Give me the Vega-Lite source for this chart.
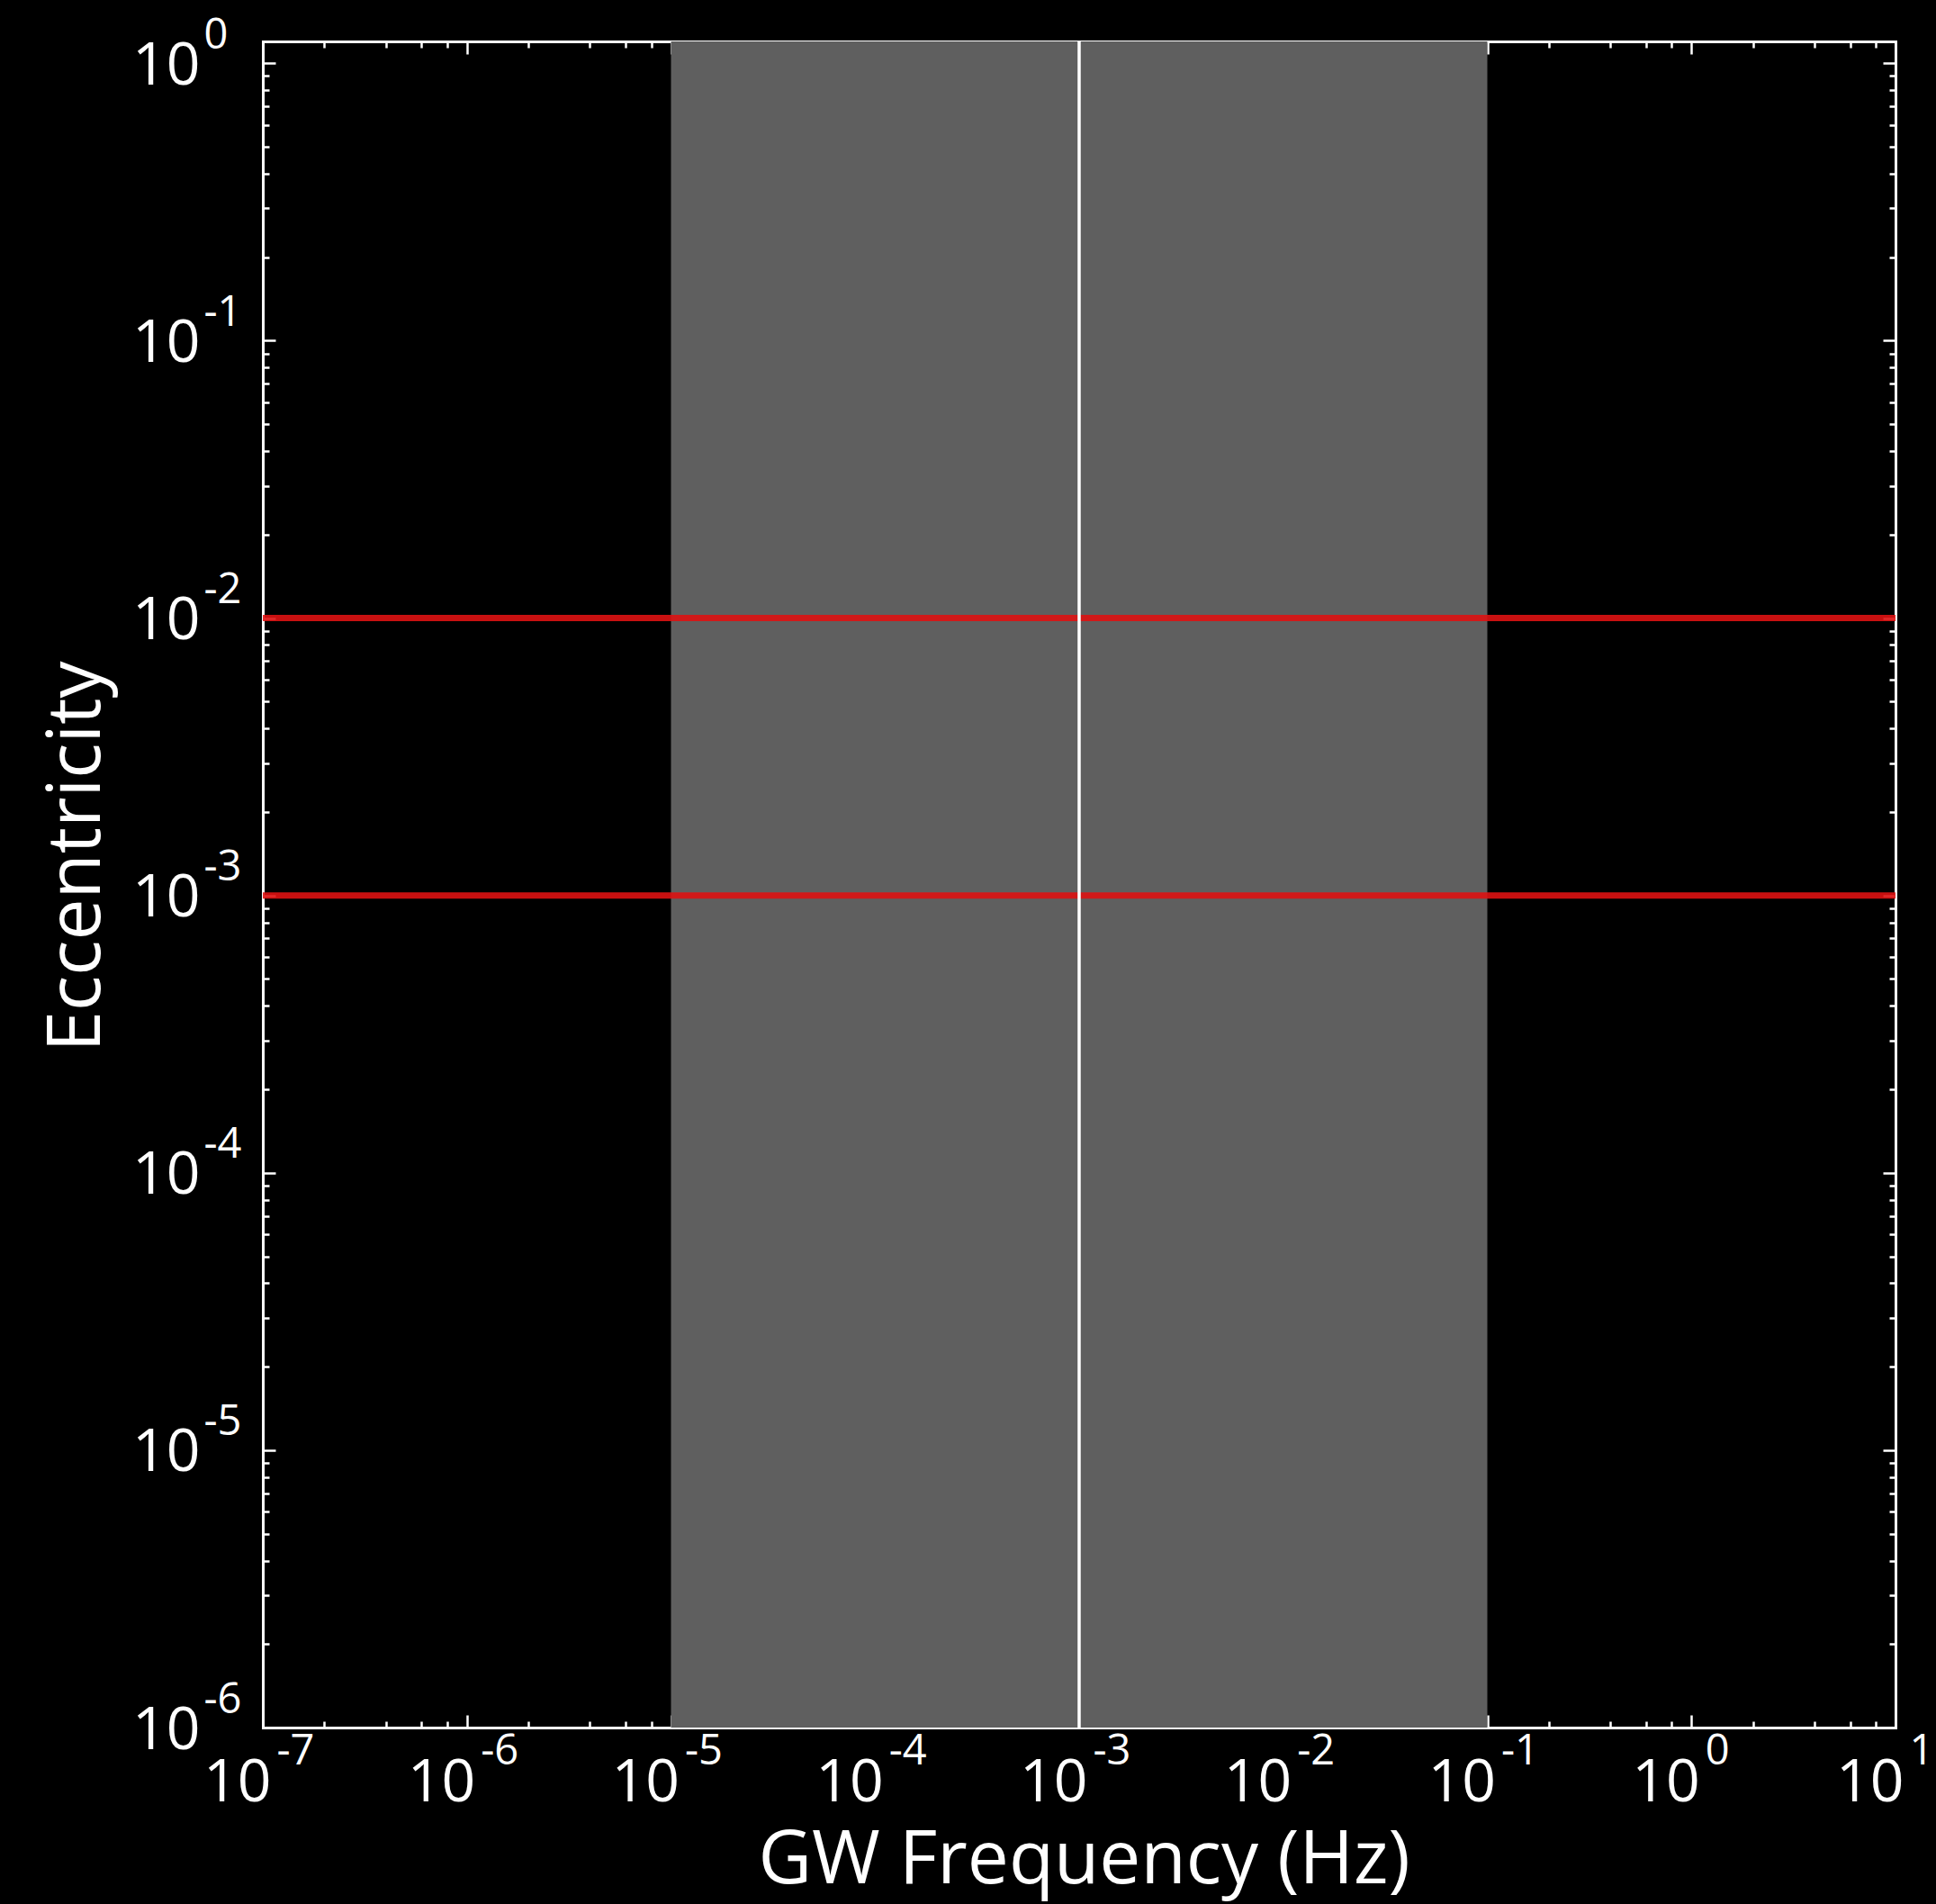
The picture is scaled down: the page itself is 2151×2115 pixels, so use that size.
{
  "$schema": "https://vega.github.io/schema/vega-lite/v6.json",
  "width": 1814,
  "height": 1873,
  "autosize": {"type": "none"},
  "padding": {"left": 292, "top": 46, "right": 45, "bottom": 196},
  "background": "#000000",
  "config": {
    "view": {"stroke": null},
    "axis": {
      "grid": false,
      "domainColor": "#ffffff",
      "domainWidth": 3,
      "domainCap": "square",
      "tickColor": "#ffffff",
      "tickWidth": 2.5,
      "labelColor": "#ffffff",
      "labelFont": "Open Sans",
      "labelFontWeight": "normal",
      "titleFont": "Open Sans",
      "titleColor": "#ffffff",
      "titleFontWeight": "normal",
      "labelOverlap": false,
      "labelFlush": false,
      "labelBound": false,
      "labelLimit": 0,
      "zindex": 1
    }
  },
  "datasets": {
    "band": [{"band_lo": 1e-5, "band_hi": 0.1}],
    "ecc_lines": [{"ecc": 0.01}, {"ecc": 0.001}],
    "freq_line": [{"freq": 0.001}]
  },
  "layer": [
    {
      "data": {"name": "band"},
      "mark": {"type": "rect", "color": "#5f5f5f"},
      "encoding": {
        "x": {
          "field": "band_lo", "type": "quantitative",
          "scale": {"type": "log", "domain": [1e-7, 10], "nice": false},
          "axis": {
            "orient": "bottom",
            "values": [1e-7, 2e-7, 4e-7, 6e-7, 8e-7, 1e-6, 2e-6, 4e-6, 6e-6, 8e-6, 1e-5, 2e-5, 4e-5, 6e-5, 8e-5, 1e-4, 2e-4, 4e-4, 6e-4, 8e-4, 1e-3, 2e-3, 4e-3, 6e-3, 8e-3, 1e-2, 2e-2, 4e-2, 6e-2, 8e-2, 0.1, 0.2, 0.4, 0.6, 0.8, 1, 2, 4, 6, 8, 10],
            "tickSize": {"condition": {"test": "abs(log(datum.value)/LN10 - round(log(datum.value)/LN10)) < 0.001", "value": -14}, "value": -7},
            "labelExpr": "abs(log(datum.value)/LN10 - round(log(datum.value)/LN10)) < 0.001 ? '10' : ''",
            "labelFontSize": 66,
            "labelAlign": "right",
            "labelBaseline": "alphabetic",
            "labelOffset": 9,
            "labelPadding": 95,
            "title": "GW Frequency (Hz)",
            "titleFontSize": 82,
            "titleBaseline": "alphabetic",
            "titleAlign": "center",
            "titleX": 912,
            "titleY": 172
          }
        },
        "x2": {"field": "band_hi"}
      }
    },
    {
      "data": {"name": "ecc_lines"},
      "mark": {"type": "rule", "color": "#de1212", "strokeWidth": 7, "opacity": 0.9},
      "encoding": {
        "y": {
          "field": "ecc", "type": "quantitative",
          "scale": {"type": "log", "domain": [1e-6, 1.2], "nice": false},
          "axis": {
            "orient": "left",
            "values": [1e-6, 2e-6, 3e-6, 4e-6, 5e-6, 6e-6, 7e-6, 8e-6, 9e-6, 1e-5, 2e-5, 3e-5, 4e-5, 5e-5, 6e-5, 7e-5, 8e-5, 9e-5, 1e-4, 2e-4, 3e-4, 4e-4, 5e-4, 6e-4, 7e-4, 8e-4, 9e-4, 1e-3, 2e-3, 3e-3, 4e-3, 5e-3, 6e-3, 7e-3, 8e-3, 9e-3, 1e-2, 2e-2, 3e-2, 4e-2, 5e-2, 6e-2, 7e-2, 8e-2, 9e-2, 0.1, 0.2, 0.3, 0.4, 0.5, 0.6, 0.7, 0.8, 0.9, 1],
            "tickSize": {"condition": {"test": "abs(log(datum.value)/LN10 - round(log(datum.value)/LN10)) < 0.001", "value": -14}, "value": -7},
            "labelExpr": "abs(log(datum.value)/LN10 - round(log(datum.value)/LN10)) < 0.001 ? '10' : ''",
            "labelFontSize": 66,
            "labelAlign": "right",
            "labelBaseline": "alphabetic",
            "labelOffset": 23,
            "labelPadding": 84,
            "title": "Eccentricity",
            "titleFontSize": 82,
            "titleBaseline": "alphabetic",
            "titleAlign": "center",
            "titleAngle": -90,
            "titleX": -182,
            "titleY": 905
          }
        }
      }
    },
    {
      "data": {"name": "freq_line"},
      "mark": {"type": "rule", "color": "#ffffff", "strokeWidth": 3.5},
      "encoding": {
        "x": {
          "field": "freq", "type": "quantitative",
          "scale": {"type": "log", "domain": [1e-7, 10], "nice": false},
          "axis": {
            "orient": "bottom",
            "values": [1e-7, 1e-6, 1e-5, 1e-4, 1e-3, 1e-2, 0.1, 1, 10],
            "ticks": false,
            "domain": false,
            "labelExpr": "(round(log(datum.value)/LN10) < 0 ? '-' : '') + abs(round(log(datum.value)/LN10))",
            "labelFontSize": 47,
            "labelAlign": "left",
            "labelBaseline": "alphabetic",
            "labelOffset": 15,
            "labelPadding": 40,
            "title": null
          }
        }
      }
    },
    {
      "data": {"name": "ecc_lines"},
      "mark": {"type": "rule", "opacity": 0},
      "encoding": {
        "y": {
          "field": "ecc", "type": "quantitative",
          "scale": {"type": "log", "domain": [1e-6, 1.2], "nice": false},
          "axis": {
            "orient": "left",
            "values": [1e-6, 1e-5, 1e-4, 1e-3, 1e-2, 0.1, 1],
            "ticks": false,
            "domain": false,
            "labelExpr": "(round(log(datum.value)/LN10) < 0 ? '-' : '') + abs(round(log(datum.value)/LN10))",
            "labelFontSize": 47,
            "labelAlign": "left",
            "labelBaseline": "alphabetic",
            "labelOffset": -17,
            "labelPadding": 66,
            "title": null
          }
        }
      }
    },
    {
      "data": {"name": "freq_line"},
      "mark": {"type": "rule", "opacity": 0},
      "encoding": {
        "x": {
          "field": "freq", "type": "quantitative",
          "scale": {"type": "log", "domain": [1e-7, 10], "nice": false},
          "axis": {
            "orient": "top",
            "values": [1e-7, 2e-7, 4e-7, 6e-7, 8e-7, 1e-6, 2e-6, 4e-6, 6e-6, 8e-6, 1e-5, 2e-5, 4e-5, 6e-5, 8e-5, 1e-4, 2e-4, 4e-4, 6e-4, 8e-4, 1e-3, 2e-3, 4e-3, 6e-3, 8e-3, 1e-2, 2e-2, 4e-2, 6e-2, 8e-2, 0.1, 0.2, 0.4, 0.6, 0.8, 1, 2, 4, 6, 8, 10],
            "tickSize": {"condition": {"test": "abs(log(datum.value)/LN10 - round(log(datum.value)/LN10)) < 0.001", "value": -14}, "value": -7},
            "labels": false,
            "title": null
          }
        }
      }
    },
    {
      "data": {"name": "ecc_lines"},
      "mark": {"type": "rule", "opacity": 0},
      "encoding": {
        "y": {
          "field": "ecc", "type": "quantitative",
          "scale": {"type": "log", "domain": [1e-6, 1.2], "nice": false},
          "axis": {
            "orient": "right",
            "values": [1e-6, 2e-6, 3e-6, 4e-6, 5e-6, 6e-6, 7e-6, 8e-6, 9e-6, 1e-5, 2e-5, 3e-5, 4e-5, 5e-5, 6e-5, 7e-5, 8e-5, 9e-5, 1e-4, 2e-4, 3e-4, 4e-4, 5e-4, 6e-4, 7e-4, 8e-4, 9e-4, 1e-3, 2e-3, 3e-3, 4e-3, 5e-3, 6e-3, 7e-3, 8e-3, 9e-3, 1e-2, 2e-2, 3e-2, 4e-2, 5e-2, 6e-2, 7e-2, 8e-2, 9e-2, 0.1, 0.2, 0.3, 0.4, 0.5, 0.6, 0.7, 0.8, 0.9, 1],
            "tickSize": {"condition": {"test": "abs(log(datum.value)/LN10 - round(log(datum.value)/LN10)) < 0.001", "value": -14}, "value": -7},
            "labels": false,
            "title": null
          }
        }
      }
    }
  ],
  "resolve": {"axis": {"x": "independent", "y": "independent"}}
}
